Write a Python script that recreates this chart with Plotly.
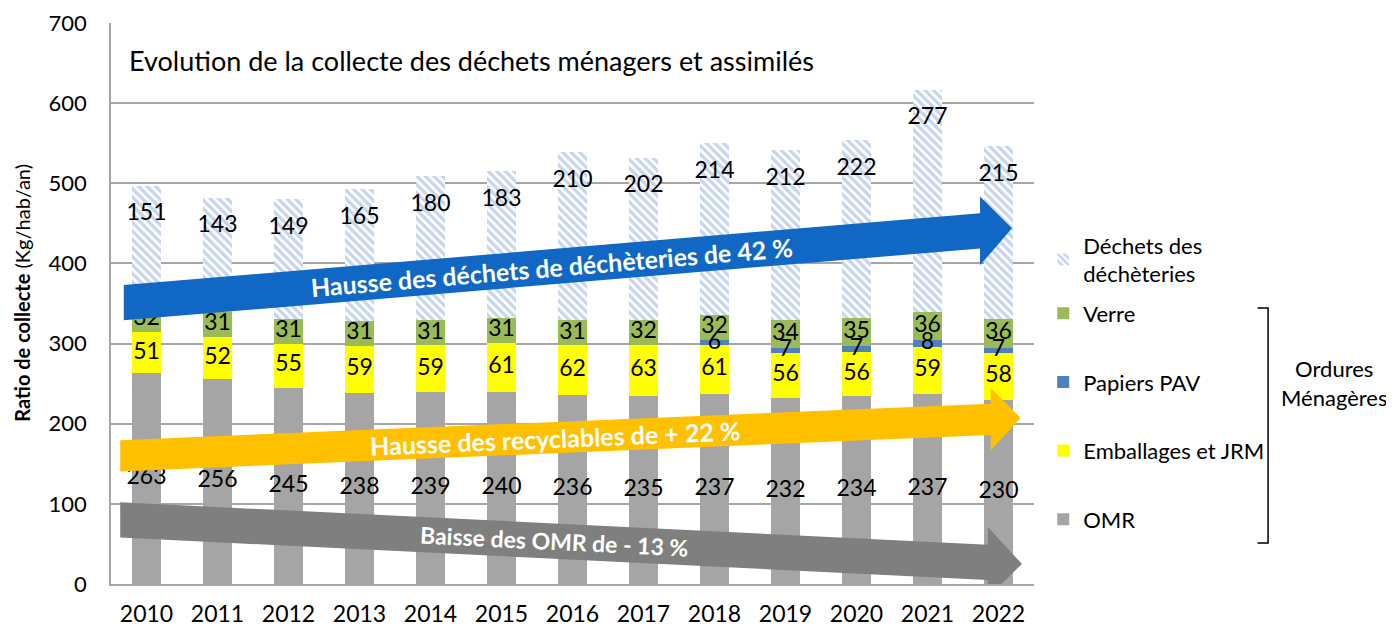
import plotly.graph_objects as go

# Données (Kg/hab/an)
annees = [str(a) for a in range(2010, 2023)]
omr = [263, 256, 245, 238, 239, 240, 236, 235, 237, 232, 234, 237, 230]
emballages = [51, 52, 55, 59, 59, 61, 62, 63, 61, 56, 56, 59, 58]
papiers = [0, 0, 0, 0, 0, 0, 0, 0, 6, 7, 7, 8, 7]
verre = [32, 31, 31, 31, 31, 31, 31, 32, 32, 34, 35, 36, 36]
decheteries = [151, 143, 149, 165, 180, 183, 210, 202, 214, 212, 222, 277, 215]
y_ticks = [0, 100, 200, 300, 400, 500, 600, 700]

POLICE = "Lato"
GRIS_GRILLE = "#A6A6A6"

fig = go.Figure()

# Barres empilées (bas -> haut), rang de légende inversé
series_om = [
    ("OMR", omr, "#A5A5A5", 4),
    ("Emballages et JRM", emballages, "#FFFF00", 3),
    ("Papiers PAV", papiers, "#4F81BD", 2),
    ("Verre", verre, "#9BBB59", 1),
]
for nom, vals, couleur, rang in series_om:
    fig.add_trace(go.Bar(
        x=annees, y=vals, name=nom, marker=dict(color=couleur, line_width=0),
        legend="legend2", legendgroup=nom, legendrank=rang,
    ))

fig.add_trace(go.Bar(
    x=annees, y=decheteries, name="Déchets des<br>déchèteries",
    marker=dict(color="white", line_width=0,
                pattern=dict(shape="\\", fgcolor="#8EAADB", bgcolor="white",
                             size=6, solidity=0.55)),
    legend="legend",
))

# Étiquettes de données (centrées dans chaque segment)
cumul = [0] * len(annees)
for nom, vals, _, _ in series_om:
    ys = [c + v / 2 for c, v in zip(cumul, vals)]
    txt = [str(v) if v else "" for v in vals]
    fig.add_trace(go.Scatter(
        x=annees, y=ys, text=txt, mode="text", showlegend=False,
        textfont=dict(size=23, color="black", family=POLICE),
        hoverinfo="skip", cliponaxis=False,
    ))
    cumul = [c + v for c, v in zip(cumul, vals)]

DECALAGE_HAUT = 36
fig.add_trace(go.Scatter(
    x=annees, y=[c + v - DECALAGE_HAUT for c, v in zip(cumul, decheteries)],
    text=[str(v) for v in decheteries], mode="text", showlegend=False,
    textfont=dict(size=23, color="black", family=POLICE),
    hoverinfo="skip", cliponaxis=False,
))


def fleche(x0, y0, xt, yt, tete, demi, demi_tete):
    """Chemin SVG d'une flèche pleine (coordonnées des axes)."""
    pente = (yt - y0) / (xt - x0)
    xb = xt - tete
    yb = yt - tete * pente
    pts = [(x0, y0 + demi), (xb, yb + demi), (xb, yb + demi_tete), (xt, yt),
           (xb, yb - demi_tete), (xb, yb - demi), (x0, y0 - demi)]
    return "M " + " L ".join(f"{x},{y}" for x, y in pts) + " Z"


fleches = [
    # (départ, pointe, longueur tête, demi-épaisseur, demi-tête, couleur, texte, angle, taille)
    ((-0.32, 351), (12.19, 444), 0.45, 22, 43, "#1068C4",
     "Hausse des déchets de déchèteries de 42 %", -4.8, 25),
    ((-0.37, 160), (12.31, 207), 0.42, 19.5, 39, "#FFC000",
     "Hausse des recyclables de + 22 %", -2.4, 25),
    ((-0.37, 80), (12.33, 25), 0.48, 22, 44, "#7F7F7F",
     "Baisse des OMR de - 13 %", 2.8, 23),
]
for (x0, y0), (xt, yt), tete, demi, demi_tete, couleur, texte, angle, taille in fleches:
    fig.add_shape(type="path", path=fleche(x0, y0, xt, yt, tete, demi, demi_tete),
                  xref="x", yref="y", fillcolor=couleur, line_width=0, layer="above")
    xm = (x0 + xt - tete) / 2
    ym = y0 + (yt - y0) * (xm - x0) / (xt - x0)
    fig.add_annotation(x=xm, y=ym, xref="x", yref="y", text=f"<b>{texte}</b>",
                       showarrow=False, textangle=angle, xanchor="center",
                       font=dict(size=taille, color="white", family=POLICE))

# Titre interne
fig.add_annotation(x=0.017, y=0.934, xref="paper", yref="paper", xanchor="left",
                   yanchor="middle",
                   text="Evolution de la collecte des déchets ménagers et assimilés",
                   showarrow=False, font=dict(size=27, color="black", family=POLICE))

# Titre de l'axe Y (gras + normal)
fig.add_annotation(x=-0.096, y=0.52, xref="paper", yref="paper", xanchor="center",
                   yanchor="middle", textangle=-90, showarrow=False,
                   text="<b>Ratio de collecte</b> (Kg/hab/an)",
                   font=dict(size=20, color="black", family=POLICE))

# Accolade "Ordures Ménagères"
fig.add_shape(type="path", xref="paper", yref="paper",
              path="M 1.2422,0.492 L 1.2536,0.492 L 1.2536,0.0731 L 1.2422,0.0731",
              line=dict(color="black", width=1.5))
fig.add_annotation(x=1.3255, y=0.358, xref="paper", yref="paper", xanchor="center",
                   yanchor="middle", text="Ordures<br>Ménagères", showarrow=False,
                   font=dict(size=22, color="black", family=POLICE))

fig.update_layout(
    width=1386, height=619,
    margin=dict(l=103, r=360, t=15, b=43, autoexpand=False),
    barmode="stack", bargap=0.6,
    plot_bgcolor="white", paper_bgcolor="white",
    font=dict(family=POLICE, color="black"),
    legend=dict(x=1.01, y=0.641, xanchor="left", yanchor="top",
                font=dict(size=22), bgcolor="rgba(0,0,0,0)"),
    legend2=dict(x=1.01, y=0.5195, xanchor="left", yanchor="top",
                 traceorder="grouped", tracegroupgap=37,
                 font=dict(size=22), bgcolor="rgba(0,0,0,0)"),
    xaxis=dict(type="category", showline=True, linecolor=GRIS_GRILLE, linewidth=1.5,
               tickfont=dict(size=23), ticks="", ticklabelstandoff=9,
               range=[-0.5, 12.5], automargin=False),
    yaxis=dict(range=[0, 700], tickvals=y_ticks, showgrid=True, gridcolor=GRIS_GRILLE,
               gridwidth=1.5, showline=True, linecolor=GRIS_GRILLE, linewidth=1.5,
               tickfont=dict(size=22), ticklabelstandoff=18, zeroline=False,
               automargin=False),
)

fig.write_html("out.html")
